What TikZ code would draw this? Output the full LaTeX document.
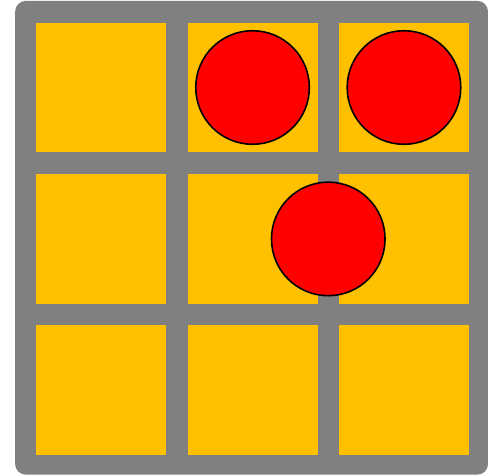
\documentclass[tikz,border=0pt]{standalone}
\usetikzlibrary{calc}
\definecolor{gridgray}{HTML}{808080}
\definecolor{cellgold}{HTML}{FFC000}
\begin{document}
\begin{tikzpicture}[x=2cm, y=2cm,
    cell/.style={fill=cellgold, minimum size=1.716cm, inner sep=0pt},
    token/.style={circle, draw=black, line width=0.6pt, fill=red, minimum size=1.5cm, inner sep=0pt}]
  \useasboundingbox (-0.668,0.578) rectangle (2.555,-2.557);
  % Board frame
  \fill[gridgray, rounded corners=4pt] (-0.568,0.572) rectangle (2.555,-2.557);
  % Cells
  \foreach \c in {0,1,2} {
    \foreach \r in {0,1,2} {
      \node[cell] (cell-\c-\r) at (\c,-\r) {};
    }
  }
  % Tokens
  \node[token] (tokenA) at (cell-1-0) {};
  \node[token] (tokenB) at (cell-2-0) {};
  \node[token] (tokenC) at ($(cell-1-1)!0.5!(cell-2-1)$) {};
\end{tikzpicture}
\end{document}
